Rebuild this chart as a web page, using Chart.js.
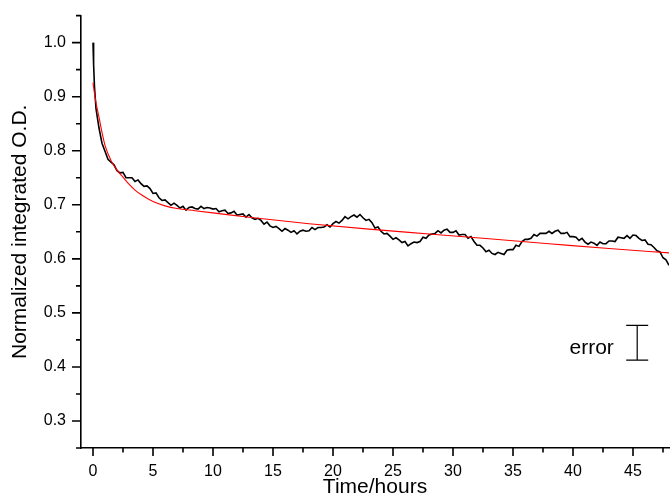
<!DOCTYPE html>
<html>
<head>
<meta charset="utf-8">
<script src="https://cdn.jsdelivr.net/npm/chart.js@4/dist/chart.umd.min.js"></script>
<style>
  html, body { margin: 0; padding: 0; background: #fff; }
  #wrap { width: 672px; height: 502px; }
</style>
</head>
<body>
<div id="wrap"><canvas id="c" width="672" height="502"></canvas></div>
<script>
// ---- data ----
const hours = [
  0, 0.05, 0.125, 0.25, 0.5, 0.75,
  1, 1.25, 1.5, 1.75, 2, 2.25, 2.5, 2.75, 3, 3.25, 3.5, 3.75,
  4, 4.25, 4.5, 4.75, 5, 5.25, 5.5, 5.75, 6, 6.25, 6.5, 6.75,
  7, 7.25, 7.5, 7.75, 8, 8.25, 8.5, 8.75, 9, 9.25, 9.5, 9.75,
  10, 10.25, 10.5, 10.75, 11, 11.25, 11.5, 11.75, 12, 12.25, 12.5, 12.75,
  13, 13.25, 13.5, 13.75, 14, 14.25, 14.5, 14.75, 15, 15.25, 15.5, 15.75,
  16, 16.25, 16.5, 16.75, 17, 17.25, 17.5, 17.75, 18, 18.25, 18.5, 18.75,
  19, 19.25, 19.5, 19.75, 20, 20.25, 20.5, 20.75, 21, 21.25, 21.5, 21.75,
  22, 22.25, 22.5, 22.75, 23, 23.25, 23.5, 23.75, 24, 24.25, 24.5, 24.75,
  25, 25.25, 25.5, 25.75, 26, 26.25, 26.5, 26.75, 27, 27.25, 27.5, 27.75,
  28, 28.25, 28.5, 28.75, 29, 29.25, 29.5, 29.75, 30, 30.25, 30.5, 30.75,
  31, 31.25, 31.5, 31.75, 32, 32.25, 32.5, 32.75, 33, 33.25, 33.5, 33.75,
  34, 34.25, 34.5, 34.75, 35, 35.25, 35.5, 35.75, 36, 36.25, 36.5, 36.75,
  37, 37.25, 37.5, 37.75, 38, 38.25, 38.5, 38.75, 39, 39.25, 39.5, 39.75,
  40, 40.25, 40.5, 40.75, 41, 41.25, 41.5, 41.75, 42, 42.25, 42.5, 42.75,
  43, 43.25, 43.5, 43.75, 44, 44.25, 44.5, 44.75, 45, 45.25, 45.5, 45.75,
  46, 46.25, 46.5, 46.75, 47, 47.25, 47.5, 47.75, 48
];
const odMeasured = [
  1.000, 0.960, 0.918, 0.878, 0.842, 0.814,
  0.799, 0.784, 0.779, 0.774, 0.763, 0.759, 0.760, 0.750, 0.750, 0.750, 0.743, 0.746,
  0.739, 0.734, 0.735, 0.730, 0.721, 0.722, 0.713, 0.708, 0.709, 0.704, 0.699, 0.703,
  0.699, 0.694, 0.697, 0.690, 0.695, 0.696, 0.693, 0.692, 0.697, 0.693, 0.695, 0.694,
  0.692, 0.693, 0.687, 0.689, 0.690, 0.684, 0.685, 0.688, 0.681, 0.682, 0.683, 0.677,
  0.682, 0.676, 0.673, 0.675, 0.671, 0.664, 0.668, 0.661, 0.658, 0.660, 0.656, 0.651,
  0.656, 0.653, 0.649, 0.652, 0.646, 0.651, 0.653, 0.651, 0.652, 0.658, 0.654, 0.658,
  0.658, 0.659, 0.663, 0.659, 0.665, 0.669, 0.666, 0.671, 0.678, 0.674, 0.678, 0.681,
  0.677, 0.682, 0.676, 0.671, 0.673, 0.667, 0.657, 0.659, 0.651, 0.646, 0.647, 0.642,
  0.636, 0.639, 0.635, 0.630, 0.632, 0.624, 0.628, 0.631, 0.630, 0.632, 0.640, 0.638,
  0.644, 0.646, 0.647, 0.652, 0.648, 0.653, 0.655, 0.649, 0.649, 0.652, 0.644, 0.645,
  0.645, 0.638, 0.641, 0.632, 0.625, 0.625, 0.620, 0.613, 0.616, 0.610, 0.608, 0.612,
  0.610, 0.608, 0.616, 0.617, 0.617, 0.625, 0.623, 0.632, 0.636, 0.636, 0.638, 0.645,
  0.642, 0.647, 0.647, 0.647, 0.651, 0.647, 0.651, 0.653, 0.647, 0.647, 0.649, 0.641,
  0.641, 0.640, 0.634, 0.638, 0.631, 0.627, 0.631, 0.629, 0.625, 0.631, 0.628, 0.628,
  0.633, 0.633, 0.632, 0.640, 0.639, 0.638, 0.643, 0.638, 0.644, 0.643, 0.638, 0.634,
  0.635, 0.627, 0.626, 0.621, 0.615, 0.613, 0.602, 0.598, 0.588
];
const fitHours = [0, 0.2, 0.5, 0.75, 1, 1.5, 2, 2.5, 3, 3.5, 4, 5, 6, 7, 8.5, 10, 13, 18, 23, 28, 33, 38, 43, 48];
const fitValues = [0.926, 0.895, 0.862, 0.834, 0.810, 0.782, 0.764, 0.751, 0.738, 0.727, 0.719, 0.706, 0.698, 0.693, 0.689, 0.685, 0.677, 0.665, 0.655, 0.646, 0.637, 0.628, 0.619, 0.611];

const xTickValues = [0, 5, 10, 15, 20, 25, 30, 35, 40, 45];
const xMinorTicks = [2.5, 7.5, 12.5, 17.5, 22.5, 27.5, 32.5, 37.5, 42.5, 47.5];
const yTickValues = [0.3, 0.4, 0.5, 0.6, 0.7, 0.8, 0.9, 1.0];
const yMinorTicks = [0.25, 0.35, 0.45, 0.55, 0.65, 0.75, 0.85, 0.95, 1.05];

const errorLabel = 'error';
const errorBarHour = 45.35;
const errorBarLow = 0.4125;
const errorBarHigh = 0.4767;

// ---- chart ----
const FONT = '"Liberation Sans", Arial, Helvetica, sans-serif';

const axisDecor = {
  id: 'axisDecor',
  afterDraw(chart) {
    const { ctx, chartArea: ca, scales: { x, y } } = chart;
    ctx.save();
    ctx.strokeStyle = '#000';
    ctx.lineWidth = 1.6;
    ctx.beginPath();
    xTickValues.forEach(v => { const p = x.getPixelForValue(v); ctx.moveTo(p, ca.bottom); ctx.lineTo(p, ca.bottom + 8); });
    xMinorTicks.forEach(v => { const p = x.getPixelForValue(v); ctx.moveTo(p, ca.bottom); ctx.lineTo(p, ca.bottom + 4.5); });
    yTickValues.forEach(v => { const p = y.getPixelForValue(v); ctx.moveTo(ca.left, p); ctx.lineTo(ca.left - 9, p); });
    yMinorTicks.forEach(v => { const p = y.getPixelForValue(v); ctx.moveTo(ca.left, p); ctx.lineTo(ca.left - 5, p); });
    ctx.stroke();

    // error bar
    const ex = x.getPixelForValue(errorBarHour);
    const y1 = y.getPixelForValue(errorBarLow);
    const y2 = y.getPixelForValue(errorBarHigh);
    const cap = 11;
    ctx.lineWidth = 1.2;
    ctx.beginPath();
    ctx.moveTo(ex, y1); ctx.lineTo(ex, y2);
    ctx.moveTo(ex - cap, y1); ctx.lineTo(ex + cap, y1);
    ctx.moveTo(ex - cap, y2); ctx.lineTo(ex + cap, y2);
    ctx.stroke();

    ctx.fillStyle = '#000';
    ctx.font = '21px ' + FONT;
    ctx.textAlign = 'right';
    ctx.textBaseline = 'alphabetic';
    ctx.fillText(errorLabel, x.getPixelForValue(43.4), y.getPixelForValue(0.4245));
    ctx.restore();
  }
};

new Chart(document.getElementById('c'), {
  type: 'line',
  data: {
    datasets: [
      {
        label: 'fit',
        data: fitHours.map((h, i) => ({ x: h, y: fitValues[i] })),
        borderColor: '#ff0000',
        borderWidth: 1.1,
        pointRadius: 0,
        fill: false,
        cubicInterpolationMode: 'monotone'
      },
      {
        label: 'measured',
        data: hours.map((h, i) => ({ x: h, y: odMeasured[i] })),
        borderColor: '#000000',
        borderWidth: 1.6,
        pointRadius: 0,
        fill: false,
        tension: 0
      }
    ]
  },
  options: {
    responsive: false,
    animation: false,
    devicePixelRatio: 1,
    layout: { padding: { top: 13, right: 3, left: 0, bottom: 0 } },
    plugins: { legend: { display: false }, tooltip: { enabled: false } },
    scales: {
      x: {
        type: 'linear',
        min: -1,
        max: 48,
        afterBuildTicks: s => { s.ticks = xTickValues.map(v => ({ value: v })); },
        afterFit: s => { s.height = 54; },
        grid: { display: true, drawOnChartArea: false, drawTicks: true, tickLength: 8, tickColor: 'rgba(0,0,0,0)' },
        border: { display: true, color: '#000', width: 1.6 },
        ticks: { color: '#000', font: { family: FONT, size: 16 }, padding: 6, maxRotation: 0, autoSkip: false },
        title: { display: true, text: 'Time/hours', color: '#000', font: { family: FONT, size: 21 }, padding: { top: 0, bottom: 2 } }
      },
      y: {
        type: 'linear',
        min: 0.25,
        max: 1.05,
        afterBuildTicks: s => { s.ticks = yTickValues.map(v => ({ value: v })); },
        afterFit: s => { s.width = 81; },
        grid: { display: true, drawOnChartArea: false, drawTicks: true, tickLength: 9, tickColor: 'rgba(0,0,0,0)' },
        border: { display: true, color: '#000', width: 1.6 },
        ticks: { color: '#000', font: { family: FONT, size: 16 }, padding: 6, callback: v => Number(v).toFixed(1) },
        title: { display: true, text: 'Normalized integrated O.D.', color: '#000', font: { family: FONT, size: 21 }, padding: { top: 8, bottom: 0 } }
      }
    }
  },
  plugins: [axisDecor]
});
</script>
</body>
</html>
